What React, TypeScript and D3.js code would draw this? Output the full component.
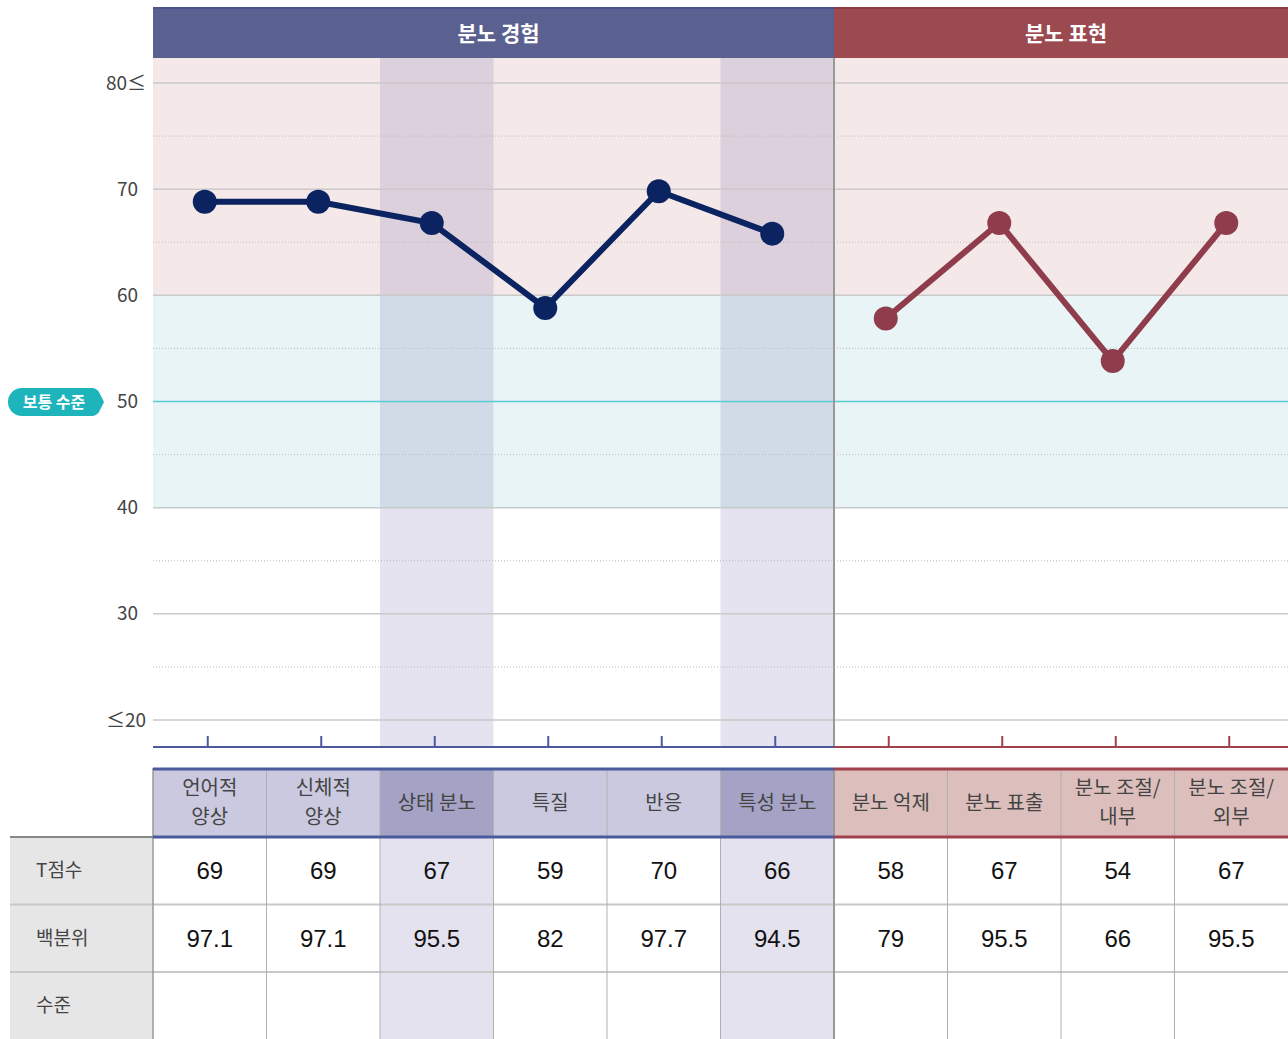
import * as d3 from "d3";
import React from "react";

const categories = [
  "언어적\n양상",
  "신체적\n양상",
  "상태 분노",
  "특질",
  "반응",
  "특성 분노",
  "분노 억제",
  "분노 표출",
  "분노 조절/\n내부",
  "분노 조절/\n외부",
];
const experienceScores = [69, 69, 67, 59, 70, 66];
const expressionScores = [58, 67, 54, 67];
const percentiles = ["97.1", "97.1", "95.5", "82", "97.7", "94.5", "79", "95.5", "66", "95.5"];
const highlighted = [2, 5];
const groups = [
  { name: "분노 경험", from: 0, to: 5 },
  { name: "분노 표현", from: 6, to: 9 },
];
const yTicks = [20, 30, 40, 50, 60, 70, 80];
const yTickLabels: Record<number, string> = { 80: "80≤", 20: "≤20" };
const rowLabels = ["T점수", "백분위", "수준"];

const W = 1288;
const H = 1039;
const left = 153;
const right = 1288;
const headTop = 7;
const headBottom = 58;
const axisY = 747;
const tableTop = 768;
const tableHeadBottom = 837;
const rowH = 67.5;
// markers sit slightly left of / below the column centre in the original
const markerDx = -5;
const markerDy = 2;

const BLUE = "#5a6191";
const RED = "#9b4a50";
const BLUE_LINE = "#0b2461";
const RED_LINE = "#8f3d4d";
const FONT = "'Noto Sans CJK KR', 'Noto Sans', sans-serif";
const NUM_FONT = "'Liberation Sans', Arial, sans-serif";

export default function App() {
  const x = d3.scaleBand<number>().domain(d3.range(categories.length)).range([left, right]);
  const y = d3.scaleLinear().domain([20, 80]).range([720, 83]);
  const cx = (i: number) => (x(i) as number) + x.bandwidth() / 2;
  const bw = x.bandwidth();
  const split = x(6) as number;
  const allScores = [...experienceScores, ...expressionScores];

  const px = (i: number) => cx(i) + markerDx;
  const py = (v: number) => y(v) + markerDy;

  const line = d3
    .line<number>()
    .x((_, i) => px(i))
    .y((d) => py(d));
  const lineRed = d3
    .line<number>()
    .x((_, i) => px(i + 6))
    .y((d) => py(d));

  const dotted = d3.range(25, 80, 10);
  const isBlue = (i: number) => i < 6;

  return (
    <svg width={W} height={H} style={{ display: "block", position: "absolute", left: 0, top: 0 }}>
      {/* background bands */}
      <rect x={left} y={headBottom} width={right - left} height={y(60) - headBottom} fill="#f4e8e8" />
      <rect x={left} y={y(60)} width={right - left} height={y(40) - y(60)} fill="#e8f4f5" />
      {highlighted.map((i) => (
        <rect key={i} x={x(i)} y={headBottom} width={bw} height={axisY - headBottom} fill="#7a74b0" opacity={0.2} />
      ))}

      {/* grid */}
      {dotted.map((t) => (
        <line key={t} x1={left} x2={right} y1={y(t)} y2={y(t)} stroke="#bbb" strokeWidth={1} strokeDasharray="1,2" />
      ))}
      {yTicks.map((t) => (
        <line
          key={t}
          x1={left}
          x2={right}
          y1={y(t)}
          y2={y(t)}
          stroke={t === 50 ? "#5ccbd6" : "#cacaca"}
          strokeWidth={1.5}
        />
      ))}
      {yTicks.map((t) => (
        <text
          key={t}
          x={t === 20 || t === 80 ? 146 : 138}
          y={y(t)}
          dy="0.35em"
          textAnchor="end"
          fontFamily={FONT}
          fontSize={19}
          fill="#444"
        >
          {yTickLabels[t] ?? t}
        </text>
      ))}

      {/* divider */}
      <line x1={split} x2={split} y1={headBottom} y2={axisY} stroke="#999" strokeWidth={2} />

      {/* header */}
      {groups.map((g, k) => {
        const x0 = x(g.from) as number;
        const x1 = (x(g.to) as number) + bw;
        const c = k === 0 ? BLUE : RED;
        return (
          <g key={g.name}>
            <rect x={x0} y={headTop} width={x1 - x0} height={headBottom - headTop} fill={c} />
            <rect x={x0} y={headTop} width={x1 - x0} height={2} fill={k === 0 ? "#4a5590" : "#8e3c44"} />
            <text
              x={(x0 + x1) / 2 + 5}
              y={(headTop + headBottom) / 2 + 1}
              dy="0.35em"
              textAnchor="middle"
              fontFamily={FONT}
              fontWeight={700}
              fontSize={21}
              fill="#fff"
            >
              {g.name}
            </text>
          </g>
        );
      })}

      {/* badge */}
      <path d="M22,388 L92,388 Q96,388 99,392 L104,402 L99,412 Q96,416 92,416 L22,416 A14,14 0 0 1 22,388 Z" fill="#1db4bc" />
      <text x={54} y={402} dy="0.35em" textAnchor="middle" fontFamily={FONT} fontWeight={700} fontSize={16} fill="#fff">
        보통 수준
      </text>

      {/* lines */}
      <path d={line(experienceScores) ?? ""} fill="none" stroke={BLUE_LINE} strokeWidth={6} />
      <path d={lineRed(expressionScores) ?? ""} fill="none" stroke={RED_LINE} strokeWidth={6} />
      {allScores.map((v, i) => (
        <circle key={i} cx={px(i)} cy={py(v)} r={12} fill={isBlue(i) ? BLUE_LINE : RED_LINE} />
      ))}

      {/* bottom axis */}
      <line x1={left} x2={split} y1={axisY} y2={axisY} stroke="#4b5a9c" strokeWidth={2} />
      <line x1={split} x2={right} y1={axisY} y2={axisY} stroke="#a0414c" strokeWidth={2} />
      {categories.map((_, i) => (
        <line key={i} x1={cx(i) - 2} x2={cx(i) - 2} y1={736} y2={axisY} stroke={isBlue(i) ? "#4b5a9c" : "#a0414c"} strokeWidth={2} />
      ))}

      {/* table header */}
      {categories.map((c, i) => {
        const fill = isBlue(i) ? (highlighted.includes(i) ? "#a4a2c5" : "#cbc9df") : "#dcbfbd";
        const lines = c.split("\n");
        return (
          <g key={c}>
            <rect x={x(i)} y={tableTop} width={bw} height={tableHeadBottom - tableTop} fill={fill} />
            {lines.map((l, j) => (
              <text
                key={j}
                x={cx(i)}
                y={(tableTop + tableHeadBottom) / 2 + (j - (lines.length - 1) / 2) * 29}
                dy="0.35em"
                textAnchor="middle"
                fontFamily={FONT}
                fontSize={20}
                fill="#444"
              >
                {l}
              </text>
            ))}
          </g>
        );
      })}

      {/* table body */}
      <rect x={10} y={tableHeadBottom} width={left - 10} height={H - tableHeadBottom} fill="#e6e6e6" />
      {highlighted.map((i) => (
        <rect key={i} x={x(i)} y={tableHeadBottom} width={bw} height={H - tableHeadBottom} fill="#e4e2ef" />
      ))}
      {[1, 2].map((r) => (
        <line key={r} x1={10} x2={right} y1={tableHeadBottom + r * rowH} y2={tableHeadBottom + r * rowH} stroke="#c8c8c8" strokeWidth={2} />
      ))}
      {d3.range(1, categories.length).map((i) => (
        <line
          key={i}
          x1={x(i)}
          x2={x(i)}
          y1={tableTop}
          y2={H}
          stroke={i === 6 ? "#999" : "#b0b0b0"}
          strokeWidth={i === 6 ? 2 : 1}
        />
      ))}
      <line x1={left} x2={left} y1={tableTop} y2={H} stroke="#999" strokeWidth={1.5} />
      <line x1={10} x2={left} y1={tableHeadBottom} y2={tableHeadBottom} stroke="#888" strokeWidth={2} />
      <line x1={left} x2={split} y1={tableTop + 1} y2={tableTop + 1} stroke="#4b5a9c" strokeWidth={3} />
      <line x1={split} x2={right} y1={tableTop + 1} y2={tableTop + 1} stroke="#a0414c" strokeWidth={3} />
      <line x1={left} x2={split} y1={tableHeadBottom} y2={tableHeadBottom} stroke="#4b5a9c" strokeWidth={3} />
      <line x1={split} x2={right} y1={tableHeadBottom} y2={tableHeadBottom} stroke="#a0414c" strokeWidth={3} />

      {rowLabels.map((l, r) => (
        <text
          key={l}
          x={36}
          y={tableHeadBottom + r * rowH + rowH / 2}
          dy="0.35em"
          fontFamily={FONT}
          fontSize={19}
          fill="#444"
        >
          {l}
        </text>
      ))}
      {allScores.map((v, i) => (
        <text
          key={"t" + i}
          x={cx(i)}
          y={tableHeadBottom + rowH / 2}
          dy="0.35em"
          textAnchor="middle"
          fontFamily={NUM_FONT}
          fontSize={24}
          fill="#111"
        >
          {v}
        </text>
      ))}
      {percentiles.map((v, i) => (
        <text
          key={"p" + i}
          x={cx(i)}
          y={tableHeadBottom + rowH * 1.5}
          dy="0.35em"
          textAnchor="middle"
          fontFamily={NUM_FONT}
          fontSize={24}
          fill="#111"
        >
          {v}
        </text>
      ))}
    </svg>
  );
}
